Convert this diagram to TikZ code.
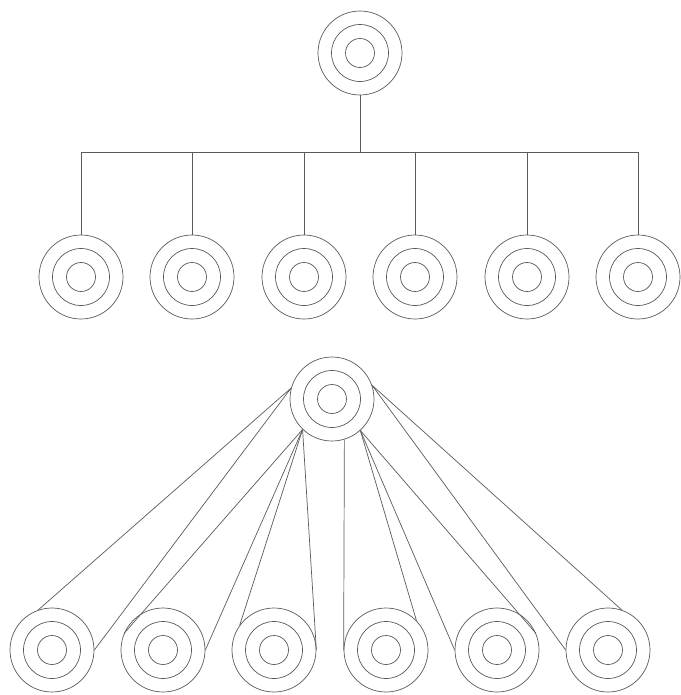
\documentclass[tikz,border=0pt]{standalone}
\usepackage{tikz}
\usetikzlibrary{positioning, calc}
\definecolor{ringgray}{HTML}{5A5A5A}
\tikzset{
  ringline/.style = {draw=ringgray, line width=0.6pt},
}

\begin{document}
\begin{tikzpicture}[
            x=0.03cm, y=-0.03cm,
            ring/.style ={circle, ringline, minimum size=2.52cm, inner sep=0pt,
                    path picture={
                      \draw[ringline] (path picture bounding box.center) circle (0.855cm);
                      \draw[ringline] (path picture bounding box.center) circle (0.435cm);}},
            link/.style ={ringline},
        ]
        \useasboundingbox (0,0) rectangle (681,695);

        %% --- Upper tree: one ring above a bus -----------------------------
        \node[ring] (top) at (360,53) {};
        \coordinate (bus) at (360,152);
        \foreach \i/\x in {1/81,2/192,3/304,4/415,5/527,6/638}
            \node[ring] (t\i) at (\x,277) {};
        \draw[link] (top.south) -- (bus);
        \foreach \i in {1,...,6}
            \draw[link] (bus) -| (t\i.north);

        %% --- Lower fan: two lines from the hub to every ring --------------
        \node[ring] (hub) at (332,399) {};
        \foreach \i/\x in {1/52,2/163,3/274,4/386,5/497,6/608}
            \node[ring] (b\i) at (\x,650) {};
        % angle on the hub / angle on the ring
        \foreach \i/\pa/\ca in {1/165/109, 1/165/0, 2/226/157, 2/226/0,
                3/226/144, 3/226/0, 4/287/180, 4/312/44,
                5/312/180, 5/312/23, 6/19/180, 6/19/71}
            \draw[link] (hub.\pa) -- (b\i.\ca);

    \end{tikzpicture}
\end{document}
